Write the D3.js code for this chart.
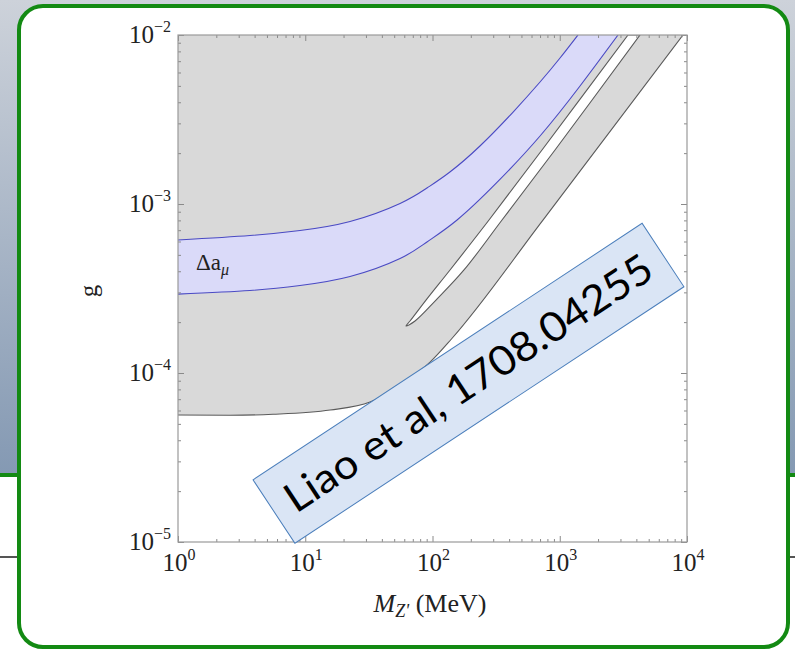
<!DOCTYPE html>
<html>
<head>
<meta charset="utf-8">
<script src="https://cdn.jsdelivr.net/npm/d3@7"></script>
<style>
  body { margin: 0; background: #fff; }
  svg { display: block; }
</style>
</head>
<body>
<svg id="chart" width="795" height="652"></svg>
<script>
// ---- data ----
const massMajorTicks = [1, 10, 100, 1000, 10000];
const massTickExponents = ["0", "1", "2", "3", "4"];
const gMajorTicks = [1e-5, 1e-4, 1e-3, 1e-2];
const gTickExponents = ["−5", "−4", "−3", "−2"];

// lower edge of the excluded (grey) region
const boundaryMass = [1, 2.56, 5.58, 15.7, 32.3, 58.7, 95.7, 142, 738, 9300];
const boundaryG    = [5.64e-5, 5.62e-5, 5.7e-5, 6.04e-5, 6.73e-5, 8.73e-5, 1.16e-4, 1.6e-4, 8.03e-4, 1e-2];

// Δa_μ band edges
const bandUpperMass = [1, 3.68, 9.1, 22.5, 55.6, 90.5, 137, 236, 430, 700, 1005, 1390];
const bandUpperG    = [6.12e-4, 6.51e-4, 6.97e-4, 7.88e-4, 1.007e-3, 1.243e-3, 1.546e-3, 2.204e-3, 3.502e-3, 5.27e-3, 7.31e-3, 1e-2];
const bandLowerMass = [1, 3.68, 9.1, 22.5, 55.6, 90.5, 156, 321, 700, 1443, 2870];
const bandLowerG    = [2.93e-4, 3.077e-4, 3.294e-4, 3.724e-4, 4.758e-4, 5.96e-4, 8.04e-4, 1.341e-3, 2.526e-3, 4.99e-3, 1e-2];

// narrow allowed strip inside the excluded region
const stripTipMass = 61.9, stripTipG = 1.897e-4;
const stripUpperMass = [66.6, 88.9, 137.3, 278, 725.3, 3439];
const stripUpperG    = [2.03e-4, 2.70e-4, 4.07e-4, 8.04e-4, 2.087e-3, 1e-2];
const stripLowerMass = [72.9, 106.5, 176.8, 351.8, 917.8, 4272];
const stripLowerG    = [2.03e-4, 2.70e-4, 4.07e-4, 8.04e-4, 2.087e-3, 1e-2];

const noteText = "Liao et al, 1708.04255";

// ---- layout ----
const svg = d3.select("#chart");
const W = 795, H = 652;
const plot = { left: 178, right: 687, top: 35, bottom: 542 };

const x = d3.scaleLog().domain([1, 1e4]).range([plot.left, plot.right]);
const y = d3.scaleLog().domain([1e-5, 1e-2]).range([plot.bottom, plot.top]);

const defs = svg.append("defs");
const grad = defs.append("linearGradient").attr("id", "slideBg")
  .attr("x1", 0).attr("y1", 0).attr("x2", 0).attr("y2", 1);
grad.append("stop").attr("offset", "0%").attr("stop-color", "#cdd2da");
grad.append("stop").attr("offset", "100%").attr("stop-color", "#8499b3");

defs.append("clipPath").attr("id", "plotClip")
  .append("rect")
  .attr("x", plot.left).attr("y", plot.top)
  .attr("width", plot.right - plot.left).attr("height", plot.bottom - plot.top);

// slide background behind the panel
svg.append("rect").attr("x", 0).attr("y", 0).attr("width", W).attr("height", 475)
  .attr("fill", "url(#slideBg)");
svg.append("rect").attr("x", 0).attr("y", 473).attr("width", W).attr("height", 4)
  .attr("fill", "#138a13");
svg.append("rect").attr("x", 0).attr("y", 556).attr("width", W).attr("height", 2)
  .attr("fill", "#555");

// rounded white panel with green border
svg.append("rect")
  .attr("x", 19).attr("y", 6).attr("width", 769).attr("height", 641)
  .attr("rx", 24).attr("ry", 24)
  .attr("fill", "#fff").attr("stroke", "#138a13").attr("stroke-width", 4);

const zip = (ms, gs) => ms.map((m, i) => [x(m), y(gs[i])]);
const monoLine = d3.line().curve(d3.curveMonotoneX);
const naturalLine = d3.line().curve(d3.curveNatural);
const smooth = d3.line().curve(d3.curveCatmullRom.alpha(0.5));

const g = svg.append("g").attr("clip-path", "url(#plotClip)");

// excluded region: everything above the boundary curve
const boundaryPts = zip(boundaryMass, boundaryG);
const area = d3.area()
  .x(d => d[0]).y0(y(1e-2) - 5).y1(d => d[1])
  .curve(d3.curveMonotoneX);
g.append("path")
  .attr("d", area(boundaryPts))
  .attr("fill", "#d9d9d9");
g.append("path")
  .attr("d", monoLine(boundaryPts))
  .attr("fill", "none").attr("stroke", "#5a5a5a").attr("stroke-width", 1.1);

// allowed strip
const stripPts = zip(stripUpperMass, stripUpperG).reverse()
  .concat([[x(stripTipMass), y(stripTipG)]])
  .concat(zip(stripLowerMass, stripLowerG));
g.append("path")
  .attr("d", smooth(stripPts) + "Z")
  .attr("fill", "#fff").attr("stroke", "#5a5a5a").attr("stroke-width", 1.1);

// Δa_μ band
const upperPts = zip(bandUpperMass, bandUpperG);
const lowerPts = zip(bandLowerMass, bandLowerG);
const upperPath = naturalLine(upperPts);
const lowerPath = naturalLine(lowerPts);
const lowerRev = naturalLine(lowerPts.slice().reverse());
g.append("path")
  .attr("d", upperPath + "L" + x(bandLowerMass[bandLowerMass.length - 1]) + "," + y(1e-2) +
        lowerRev.replace(/^M/, "L") + "Z")
  .attr("fill", "#dadaf9");
g.append("path").attr("d", upperPath)
  .attr("fill", "none").attr("stroke", "#4a4ac4").attr("stroke-width", 1.1);
g.append("path").attr("d", lowerPath)
  .attr("fill", "none").attr("stroke", "#4a4ac4").attr("stroke-width", 1.1);

// ---- frame and ticks ----
const massMinor = [];
for (let d = 0; d < 4; d++) for (let m = 2; m <= 9; m++) massMinor.push(m * Math.pow(10, d));
const gMinor = [];
for (let d = -5; d < -2; d++) for (let m = 2; m <= 9; m++) gMinor.push(m * Math.pow(10, d));

const tickColor = "#8a8a8a";
function styleAxis(sel) {
  sel.select(".domain").remove();
  sel.selectAll("line").attr("stroke", tickColor);
  sel.selectAll("text").remove();
}
const axes = [
  [d3.axisBottom(x), 0, plot.bottom, massMajorTicks, massMinor],
  [d3.axisTop(x), 0, plot.top, massMajorTicks, massMinor],
  [d3.axisLeft(y), plot.left, 0, gMajorTicks, gMinor],
  [d3.axisRight(y), plot.right, 0, gMajorTicks, gMinor]
];
axes.forEach(([ax, tx, ty, major, minor]) => {
  svg.append("g").attr("transform", `translate(${tx},${ty})`)
    .call(ax.tickValues(major).tickSize(-6).tickFormat(() => "")).call(styleAxis);
  svg.append("g").attr("transform", `translate(${tx},${ty})`)
    .call(ax.tickValues(minor).tickSize(-3).tickFormat(() => "")).call(styleAxis);
});

svg.append("rect")
  .attr("x", plot.left).attr("y", plot.top)
  .attr("width", plot.right - plot.left).attr("height", plot.bottom - plot.top)
  .attr("fill", "none").attr("stroke", "#9a9a9a").attr("stroke-width", 1.2);

// ---- tick labels ----
const serif = "'Liberation Serif', 'Times New Roman', serif";
massMajorTicks.forEach((v, i) => {
  const t = svg.append("text")
    .attr("x", x(v) + 1).attr("y", plot.bottom + 29)
    .attr("text-anchor", "middle")
    .attr("font-family", serif).attr("font-size", 25).attr("fill", "#222");
  t.append("tspan").text("10");
  t.append("tspan").attr("dy", -11).attr("font-size", 16).text(massTickExponents[i]);
});
gMajorTicks.forEach((v, i) => {
  const t = svg.append("text")
    .attr("x", 171).attr("y", y(v) + 8)
    .attr("text-anchor", "end")
    .attr("font-family", serif).attr("font-size", 25).attr("fill", "#222");
  t.append("tspan").text("10");
  t.append("tspan").attr("dy", -11).attr("font-size", 16).text(gTickExponents[i]);
});

// ---- axis titles ----
svg.append("text")
  .attr("transform", "translate(97,291) rotate(-90)")
  .attr("text-anchor", "middle")
  .attr("font-family", serif).attr("font-size", 25).attr("fill", "#222")
  .text("g");

const xt = svg.append("text")
  .attr("x", 430).attr("y", 612)
  .attr("text-anchor", "middle")
  .attr("font-family", serif).attr("font-size", 26).attr("fill", "#222");
xt.append("tspan").attr("font-style", "italic").text("M");
xt.append("tspan").attr("font-style", "italic").attr("font-size", 18).attr("dy", 5).text("Z'");
xt.append("tspan").attr("dy", -5).text(" (MeV)");

// band label
const bl = svg.append("text")
  .attr("x", 196).attr("y", 270)
  .attr("font-family", serif).attr("font-size", 23).attr("fill", "#222");
bl.append("tspan").text("Δa");
bl.append("tspan").attr("font-style", "italic").attr("font-size", 16).attr("dy", 5).text("μ");

// ---- rotated citation box ----
const note = svg.append("g").attr("transform", "translate(468.5,383.3) rotate(-33.4)");
note.append("rect")
  .attr("x", -233).attr("y", -38).attr("width", 466).attr("height", 76)
  .attr("fill", "#dae5f5").attr("stroke", "#4a7ebb").attr("stroke-width", 1);
note.append("text")
  .attr("x", 0).attr("y", 14)
  .attr("text-anchor", "middle")
  .attr("font-family", "Lato, 'Open Sans', sans-serif").attr("font-size", 41)
  .attr("textLength", 432).attr("lengthAdjust", "spacingAndGlyphs")
  .attr("fill", "#000")
  .text(noteText);
</script>
</body>
</html>
